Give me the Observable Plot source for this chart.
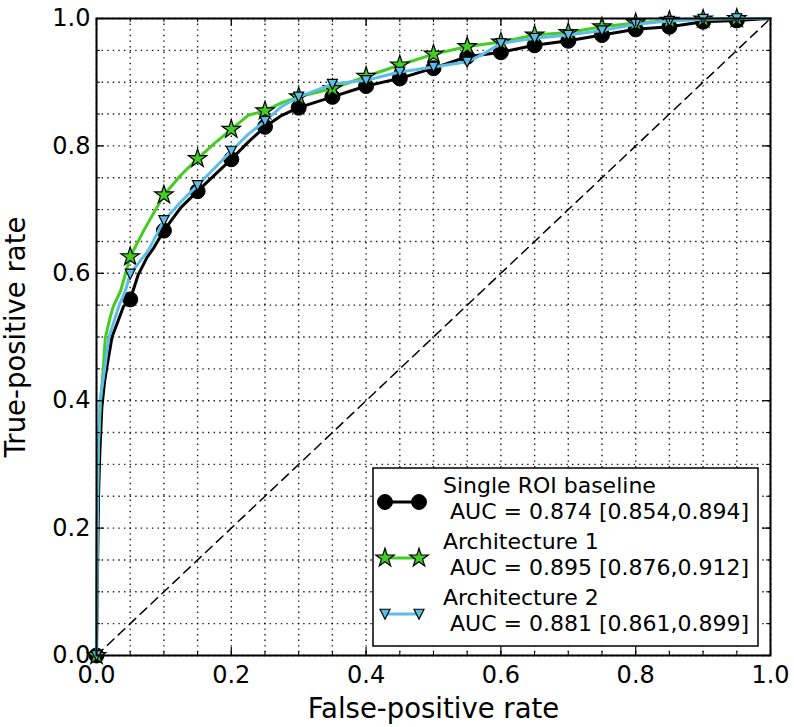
<!DOCTYPE html>
<html>
<head>
<meta charset="utf-8">
<script src="https://cdn.jsdelivr.net/npm/d3@7"></script>
<script src="https://cdn.jsdelivr.net/npm/@observablehq/plot@0.6"></script>
<style>
  html, body { margin: 0; padding: 0; background: #fff; }
  #chart { position: relative; width: 794px; height: 727px; }
</style>
</head>
<body>
<div id="chart"></div>
<script>
// ---- Data ----
const majorTicks = [0, 0.2, 0.4, 0.6, 0.8, 1.0];
const minorTicks = [0, 0.05, 0.1, 0.15, 0.2, 0.25, 0.3, 0.35, 0.4, 0.45, 0.5, 0.55, 0.6, 0.65, 0.7, 0.75, 0.8, 0.85, 0.9, 0.95, 1.0];
const markerFpr = [0, 0.05, 0.1, 0.15, 0.2, 0.25, 0.3, 0.35, 0.4, 0.45, 0.5, 0.55, 0.6, 0.65, 0.7, 0.75, 0.8, 0.85, 0.9, 0.95];

const seriesNames = ["Single ROI baseline", "Architecture 1", "Architecture 2"];
const aucLabels = [" AUC = 0.874 [0.854,0.894]", " AUC = 0.895 [0.876,0.912]", " AUC = 0.881 [0.861,0.899]"];
const seriesColors = ["#000000", "#44cc22", "#5cbde8"];

const baselineFpr = [0, 0.001, 0.003, 0.005, 0.008, 0.012, 0.015, 0.023, 0.032, 0.04, 0.05, 0.062, 0.075, 0.085, 0.1, 0.125, 0.15, 0.175, 0.2, 0.225, 0.25, 0.275, 0.3, 0.35, 0.4, 0.45, 0.5, 0.55, 0.6, 0.65, 0.7, 0.75, 0.8, 0.85, 0.9, 0.95, 1.0];
const baselineTpr = [0, 0.10, 0.25, 0.32, 0.39, 0.43, 0.45, 0.50, 0.525, 0.548, 0.559, 0.598, 0.625, 0.64, 0.667, 0.703, 0.729, 0.754, 0.779, 0.806, 0.830, 0.848, 0.860, 0.877, 0.894, 0.906, 0.922, 0.940, 0.947, 0.958, 0.965, 0.974, 0.983, 0.987, 0.995, 0.997, 1.0];

const arch1Fpr = [0, 0.001, 0.003, 0.006, 0.01, 0.013, 0.02, 0.025, 0.036, 0.05, 0.07, 0.1, 0.125, 0.15, 0.175, 0.2, 0.225, 0.25, 0.275, 0.3, 0.35, 0.4, 0.45, 0.5, 0.55, 0.6, 0.65, 0.7, 0.75, 0.8, 0.85, 0.9, 0.95, 1.0];
const arch1Tpr = [0, 0.20, 0.33, 0.398, 0.449, 0.498, 0.53, 0.548, 0.573, 0.626, 0.667, 0.723, 0.754, 0.780, 0.804, 0.826, 0.848, 0.855, 0.868, 0.877, 0.890, 0.909, 0.927, 0.944, 0.956, 0.963, 0.974, 0.978, 0.987, 0.993, 0.997, 0.999, 1.0, 1.0];

const arch2Fpr = [0, 0.001, 0.002, 0.005, 0.012, 0.018, 0.033, 0.043, 0.05, 0.077, 0.1, 0.125, 0.15, 0.175, 0.2, 0.225, 0.25, 0.275, 0.3, 0.35, 0.4, 0.45, 0.5, 0.55, 0.575, 0.6, 0.65, 0.7, 0.75, 0.8, 0.85, 0.9, 0.95, 1.0];
const arch2Tpr = [0, 0.15, 0.30, 0.398, 0.449, 0.498, 0.548, 0.573, 0.599, 0.636, 0.683, 0.712, 0.738, 0.765, 0.792, 0.818, 0.839, 0.862, 0.877, 0.897, 0.903, 0.916, 0.924, 0.932, 0.945, 0.961, 0.969, 0.974, 0.981, 0.991, 0.996, 0.999, 1.0, 1.0];

const chanceFpr = [0, 1];
const chanceTpr = [0, 1];

// ---- Build tables ----
const toRows = (xs, ys) => xs.map((x, i) => ({x, y: ys[i]}));
const baseline = toRows(baselineFpr, baselineTpr);
const arch1 = toRows(arch1Fpr, arch1Tpr);
const arch2 = toRows(arch2Fpr, arch2Tpr);
const chance = toRows(chanceFpr, chanceTpr);
const isMarker = d => markerFpr.some(m => Math.abs(m - d.x) < 1e-9);

// downward triangle symbol (matplotlib "v")
const triangleDown = {
  draw(context, size) {
    const s = Math.sqrt(size / Math.PI);
    context.moveTo(-s, -s * 0.95);
    context.lineTo(s, -s * 0.95);
    context.lineTo(0, s * 1.05);
    context.closePath();
  }
};

// ---- Layout ----
const W = 794, H = 727, mL = 96, mR = 24, mT = 18, mB = 72;
const innerW = W - mL - mR, innerH = H - mT - mB;
const minorLen = 4, majorLen = 8;
const fmt = d3.format(".1f");

const chart = Plot.plot({
  width: W, height: H,
  marginLeft: mL, marginRight: mR, marginTop: mT, marginBottom: mB,
  style: {fontFamily: "DejaVu Sans", fontSize: "24px", background: "white", color: "black", overflow: "visible"},
  x: {domain: [0, 1], ticks: majorTicks, tickFormat: fmt, tickSize: 0, tickPadding: 10, label: null},
  y: {domain: [0, 1], ticks: majorTicks, tickFormat: fmt, tickSize: 0, tickPadding: 6, label: null},
  marks: [
    // dotted grid
    Plot.ruleX(minorTicks, {x: d => d, stroke: "black", strokeWidth: 1.4, strokeDasharray: "1.4,4.2", strokeOpacity: 0.9}),
    Plot.ruleY(minorTicks, {y: d => d, stroke: "black", strokeWidth: 1.4, strokeDasharray: "1.4,4.2", strokeOpacity: 0.9}),
    // chance diagonal
    Plot.line(chance, {x: "x", y: "y", stroke: "black", strokeWidth: 1.5, strokeDasharray: "9,6"}),
    // series
    Plot.line(baseline, {x: "x", y: "y", stroke: seriesColors[0], strokeWidth: 3}),
    Plot.dot(baseline.filter(isMarker), {x: "x", y: "y", symbol: "circle", r: 7.5, fill: seriesColors[0], stroke: "black", strokeWidth: 1}),
    Plot.line(arch1, {x: "x", y: "y", stroke: seriesColors[1], strokeWidth: 3}),
    Plot.dot(arch1.filter(isMarker), {x: "x", y: "y", symbol: "star", r: 5.8, fill: seriesColors[1], stroke: "black", strokeWidth: 1.2}),
    Plot.line(arch2, {x: "x", y: "y", stroke: seriesColors[2], strokeWidth: 3}),
    Plot.dot(arch2.filter(isMarker), {x: "x", y: "y", symbol: triangleDown, r: 5, fill: seriesColors[2], stroke: "black", strokeWidth: 1.2}),
    // inward ticks on all four sides
    Plot.ruleX(minorTicks, {x: d => d, insetTop: innerH - minorLen, stroke: "black", strokeWidth: 1}),
    Plot.ruleX(minorTicks, {x: d => d, insetBottom: innerH - minorLen, stroke: "black", strokeWidth: 1}),
    Plot.ruleX(majorTicks, {x: d => d, insetTop: innerH - majorLen, stroke: "black", strokeWidth: 1.2}),
    Plot.ruleX(majorTicks, {x: d => d, insetBottom: innerH - majorLen, stroke: "black", strokeWidth: 1.2}),
    Plot.ruleY(minorTicks, {y: d => d, insetRight: innerW - minorLen, stroke: "black", strokeWidth: 1}),
    Plot.ruleY(minorTicks, {y: d => d, insetLeft: innerW - minorLen, stroke: "black", strokeWidth: 1}),
    Plot.ruleY(majorTicks, {y: d => d, insetRight: innerW - majorLen, stroke: "black", strokeWidth: 1.2}),
    Plot.ruleY(majorTicks, {y: d => d, insetLeft: innerW - majorLen, stroke: "black", strokeWidth: 1.2}),
    Plot.frame({stroke: "black", strokeWidth: 2}),
    // axis titles
    Plot.text(["False-positive rate"], {text: d => d, frameAnchor: "bottom", lineAnchor: "bottom", textAnchor: "middle", dy: 62, fontSize: 27.5, fill: "black"}),
    Plot.text(["True-positive rate"], {text: d => d, frameAnchor: "left", lineAnchor: "middle", textAnchor: "middle", rotate: -90, dx: -80, fontSize: 27.5, fill: "black"})
  ]
});

document.getElementById("chart").appendChild(chart);

// ---- Legend (inside the plot, lower right) ----
const svg = d3.select(chart);
const lg = svg.append("g").attr("transform", "translate(373,468)")
  .attr("font-family", "DejaVu Sans").attr("font-size", 22).attr("text-anchor", "start");
lg.append("rect").attr("x", 0).attr("y", 0).attr("width", 385).attr("height", 178)
  .attr("fill", "white").attr("stroke", "black").attr("stroke-width", 1.5);

const legendSymbols = [
  d3.symbol(d3.symbolCircle, Math.PI * 7.5 * 7.5),
  d3.symbol(d3.symbolStar, Math.PI * 5.8 * 5.8),
  d3.symbol(triangleDown, Math.PI * 5 * 5)
];
const rowY = [34, 90, 146];
seriesNames.forEach((name, i) => {
  const y = rowY[i];
  lg.append("line").attr("x1", 12).attr("x2", 46).attr("y1", y).attr("y2", y)
    .attr("stroke", seriesColors[i]).attr("stroke-width", 3);
  [12, 46].forEach(x => {
    lg.append("path").attr("d", legendSymbols[i]()).attr("transform", `translate(${x},${y})`)
      .attr("fill", seriesColors[i]).attr("stroke", "black").attr("stroke-width", i === 0 ? 1 : 1.2);
  });
  lg.append("text").attr("x", 70).attr("y", y - 9).attr("text-anchor", "start").text(name).attr("fill", "black");
  lg.append("text").attr("x", 70).attr("y", y + 17).attr("text-anchor", "start")
    .style("white-space", "pre").text(aucLabels[i]).attr("fill", "black");
});
</script>
</body>
</html>
